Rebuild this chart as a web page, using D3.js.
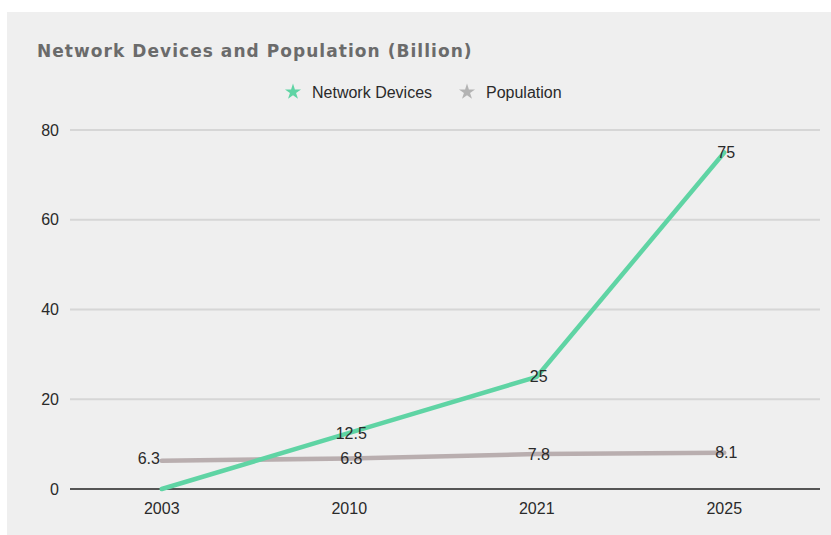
<!DOCTYPE html>
<html><head><meta charset="utf-8">
<script src="https://cdn.jsdelivr.net/npm/d3@7"></script>
<style>body{margin:0;background:#fff;}svg{display:block;font-family:"Liberation Sans",Arial,sans-serif;}</style>
</head><body>
<script>
const years = ["2003","2010","2021","2025"];
const devices = [0, 12.5, 25, 75];
const population = [6.3, 6.8, 7.8, 8.1];
const yTicks = [0, 20, 40, 60, 80];
const seriesNames = ["Network Devices", "Population"];
const colors = ["#5fd4a4", "#b9aeaf"];

const W = 831, H = 535;
const svg = d3.select("body").append("svg").attr("width", W).attr("height", H);
svg.append("rect").attr("x", 7).attr("y", 12).attr("width", W - 7).attr("height", H - 12).attr("fill", "#efefef");

const x = d3.scalePoint().domain(years).range([68, 818]).padding(0.5);
const y = d3.scaleLinear().domain([0, 80]).range([489, 130]);

// grid
svg.append("g").selectAll("line").data(yTicks.filter(d => d > 0)).join("line")
  .attr("x1", 70).attr("x2", 820).attr("y1", d => y(d)).attr("y2", d => y(d))
  .attr("stroke", "#d6d6d6").attr("stroke-width", 2);

// y labels
svg.append("g").selectAll("text").data(yTicks).join("text")
  .attr("x", 59).attr("y", d => y(d)).attr("dy", "0.35em").attr("text-anchor", "end")
  .attr("font-size", 16).attr("fill", "#2a2a2a").text(d => d);

// x axis line
svg.append("line").attr("x1", 70).attr("x2", 820).attr("y1", y(0)).attr("y2", y(0))
  .attr("stroke", "#555").attr("stroke-width", 2);
svg.append("g").selectAll("text").data(years).join("text")
  .attr("x", d => x(d)).attr("y", 514).attr("text-anchor", "middle")
  .attr("font-size", 16).attr("fill", "#2a2a2a").text(d => d);

const line = d3.line().x(d => x(d.k)).y(d => y(d.v));
const series = [devices, population];
[1, 0].forEach(i => {
  const pts = years.map((k, j) => ({k, v: series[i][j]}));
  svg.append("path").datum(pts).attr("d", line).attr("fill", "none")
    .attr("stroke", colors[i]).attr("stroke-width", 4.5).attr("stroke-linecap", "round").attr("stroke-linejoin", "round");
});

// data labels (no label for the zero point)
[0, 1].forEach(i => {
  svg.append("g").selectAll("text")
    .data(years.map((k, j) => ({k, v: series[i][j], j})).filter(d => d.v !== 0)).join("text")
    .attr("x", d => (i === 1 && d.j === 0) ? x(d.k) - 13 : x(d.k) + 2)
    .attr("y", d => y(d.v) + (i === 1 && d.j === 0 ? -2 : 0))
    .attr("dy", "0.35em").attr("text-anchor", "middle")
    .attr("font-size", 16).attr("fill", "#2a2a2a").text(d => d.v);
});

// title
svg.append("text").attr("x", 37).attr("y", 57).attr("font-size", 17).attr("font-weight", "bold")
  .attr("font-family", "'DejaVu Sans', sans-serif")
  .attr("fill", "#6b6b6b").attr("letter-spacing", 1.05).text("Network Devices and Population (Billion)");

// legend
const star = d3.symbol().type(d3.symbolStar).size(80);
const legX = [293, 467];
const legColors = ["#5fd4a4", "#b3b3b3"];
seriesNames.forEach((n, i) => {
  svg.append("path").attr("d", star).attr("transform", `translate(${legX[i]},92)`).attr("fill", legColors[i]);
  svg.append("text").attr("x", legX[i] + 19).attr("y", 92).attr("dy", "0.35em")
    .attr("font-size", 16).attr("fill", "#2a2a2a").text(n);
});
</script>
</body></html>
